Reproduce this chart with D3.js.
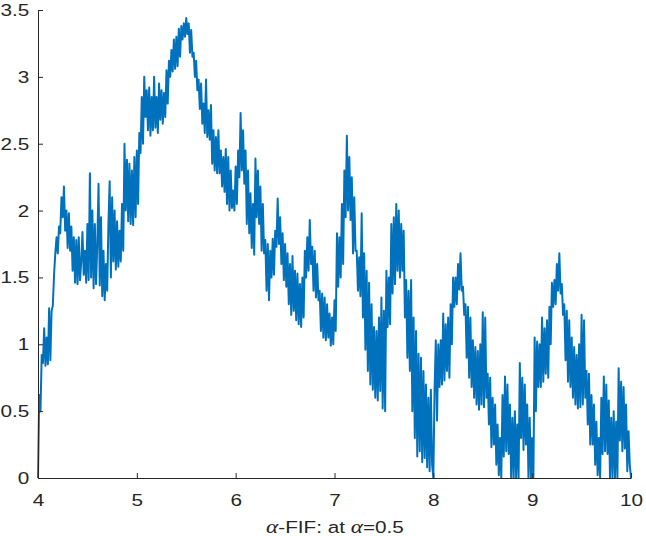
<!DOCTYPE html>
<html>
<head>
<meta charset="utf-8">
<script src="https://cdn.jsdelivr.net/npm/d3@7"></script>
<style>
  body { margin: 0; background: #fff; }
  text { font-family: "Liberation Sans", Arial, sans-serif; fill: #262626; }
</style>
</head>
<body>
<div id="chart"></div>
<script>
(function() {

    var width = 646,
    height = 536;

    // sampled curve, one array per unit interval of x, step 0.0125
    var step = 0.0125;
    var seg4 = [0.00,0.62,0.50,0.92,0.86,1.12,0.84,1.05,0.85,1.27,
                0.88,1.25,1.29,1.52,1.68,1.80,1.68,1.88,1.83,2.10,
                1.95,2.18,1.85,2.00,1.72,1.98,1.70,1.88,1.55,1.80,
                1.46,1.78,1.45,1.80,1.48,1.62,1.84,1.52,1.70,1.46,
                1.90,1.48,2.28,1.50,2.00,1.42,1.90,1.45,1.75,2.20,
                1.44,1.95,1.36,1.70,1.33,1.60,1.40,1.90,2.22,1.50,
                2.10,1.62,2.00,1.56,1.92,1.58,1.85,1.62,2.05,1.70,
                2.50,2.00,2.38,1.92,2.35,1.90,2.30,1.89,2.40,1.95];
    var seg5 = [2.45,2.05,2.58,2.43,2.85,2.50,3.00,2.70,2.90,2.60,
                2.92,2.56,2.85,2.60,3.00,2.62,2.85,2.58,2.95,2.68,
                2.90,2.65,2.88,2.70,3.05,2.80,3.12,3.00,3.20,3.04,
                3.28,3.06,3.30,3.08,3.36,3.15,3.38,3.28,3.40,3.30,
                3.44,3.32,3.40,3.18,3.35,3.15,3.18,3.00,3.12,2.90,
                2.98,2.76,2.95,2.65,2.80,2.58,2.98,2.55,2.75,2.53,
                2.79,2.35,2.60,2.30,2.55,2.28,2.60,2.28,2.45,2.18,
                2.40,2.14,2.46,2.05,2.40,2.00,2.30,2.02,2.15,2.00];
    var seg6 = [2.33,2.05,2.45,2.25,2.73,2.30,2.60,2.20,2.45,1.90,
                2.30,1.83,2.13,1.72,2.05,1.67,2.39,1.95,2.30,1.90,
                2.18,1.70,2.05,1.68,1.78,1.40,1.75,1.33,1.70,1.50,
                1.79,1.52,1.85,1.73,2.09,1.75,1.95,1.60,1.83,1.48,
                1.75,1.43,1.68,1.30,1.60,1.22,1.66,1.25,1.55,1.18,
                1.53,1.15,1.45,1.13,1.50,1.20,1.70,1.50,1.80,1.55,
                1.93,1.60,1.73,1.40,1.70,1.35,1.60,1.33,1.40,1.10,
                1.38,1.05,1.35,1.03,1.30,1.05,1.23,0.99,1.20,1.00];
    var seg7 = [1.33,1.10,1.83,1.43,1.80,1.50,2.05,1.60,2.30,1.95,
                2.56,2.00,2.40,1.93,2.25,1.68,2.10,1.70,1.70,1.40,
                1.65,1.36,1.98,1.20,1.68,0.96,1.55,0.80,1.46,0.70,
                1.30,0.66,1.13,0.60,1.10,0.58,1.20,0.65,1.35,0.52,
                1.25,0.50,1.55,1.13,1.50,1.15,1.90,1.38,1.95,1.45,
                2.05,1.55,2.00,1.50,1.90,1.55,1.85,1.20,1.48,0.90,
                1.40,0.80,1.48,0.50,1.20,0.30,1.10,0.16,0.93,0.20,
                0.90,0.12,0.80,0.15,0.70,0.08,0.60,0.05,0.66,0.10];
    var seg8 = [0.00,0.66,1.03,0.43,1.00,0.68,1.03,0.70,1.23,0.73,
                1.15,0.80,1.20,0.75,1.30,1.00,1.50,1.28,1.50,1.30,
                1.60,1.41,1.68,1.40,1.43,1.22,1.30,0.90,1.28,0.75,
                1.20,0.68,1.03,0.60,0.98,0.55,0.95,0.51,1.00,0.55,
                1.24,0.53,1.20,0.60,0.78,0.40,0.75,0.23,0.60,0.25,
                0.55,0.10,0.40,0.02,0.30,0.00,0.62,0.16,0.76,0.20,
                0.70,0.18,0.55,0.00,0.45,0.00,0.50,0.00,0.40,0.00,
                0.86,0.30,0.75,0.21,0.70,0.25,0.55,0.00,0.45,0.00];
    var seg9 = [0.30,0.00,1.05,0.50,1.02,0.68,1.00,0.68,1.20,0.72,
                1.12,0.78,1.18,0.75,1.28,1.00,1.46,1.28,1.48,1.30,
                1.60,1.40,1.68,1.38,1.45,1.22,1.30,0.88,1.25,0.72,
                1.18,0.68,1.05,0.60,0.98,0.55,0.92,0.52,1.00,0.53,
                1.22,0.55,1.18,0.60,0.80,0.40,0.78,0.25,0.62,0.25,
                0.55,0.10,0.42,0.02,0.30,0.00,0.60,0.18,0.76,0.20,
                0.70,0.18,0.58,0.00,0.45,0.00,0.50,0.00,0.42,0.00,
                0.82,0.28,0.72,0.20,0.68,0.22,0.55,0.05,0.35,0.10];
    var lastValue = 0.00;

    var xTicks = [4, 5, 6, 7, 8, 9, 10];
    var yTicks = [0, 0.5, 1, 1.5, 2, 2.5, 3, 3.5];

    var values = seg4.concat(seg5, seg6, seg7, seg8, seg9, [lastValue]);
    var points = values.map(function(v, i) {
        return { x: 4 + i * step, y: v };
    });

    var svg = d3.select("#chart")
    .append("svg")
    .attr("width", width)
    .attr("height", height);

    var xScale = d3.scaleLinear().domain([4, 10]).range([38, 631]);
    var yScale = d3.scaleLinear().domain([0, 3.5]).range([478, 10]);

    // the reference text is a bit wider than Liberation Sans
    var stretch = 1.22;

    var line = d3.line()
        .x(function(d) { return xScale(d.x); })
        .y(function(d) { return yScale(d.y); });

    svg.append("path")
        .datum(points)
        .attr("d", line)
        .attr("fill", "none")
        .attr("stroke", "#0072BD")
        .attr("stroke-width", 2)
        .attr("stroke-linejoin", "round");

    var xAxis = svg.append("g")
        .attr("transform", "translate(0,478)")
        .call(d3.axisBottom(xScale).tickValues(xTicks)
            .tickSizeInner(-5).tickSizeOuter(0).tickPadding(16)
            .tickFormat(d3.format("~g")));

    var yAxis = svg.append("g")
        .attr("transform", "translate(38,0)")
        .call(d3.axisLeft(yScale).tickValues(yTicks)
            .tickSizeInner(-5).tickSizeOuter(0).tickPadding(8)
            .tickFormat(d3.format("~g")));

    [xAxis, yAxis].forEach(function(g) {
        g.select(".domain").attr("stroke", "#262626");
        g.selectAll(".tick line").attr("stroke", "#262626");
        g.selectAll("text")
            .attr("fill", "#262626")
            .style("font-size", "17px")
            .attr("transform", "scale(" + stretch + ",1)");
    });
    yAxis.selectAll("text").attr("x", -8.7 / stretch);

    var title = svg.append("text")
        .attr("text-anchor", "middle")
        .attr("transform", "translate(335,533) scale(" + stretch + ",1)")
        .style("font-size", "17px");
    title.append("tspan").text("α")
        .style("font-family", "'Liberation Serif', serif")
        .style("font-style", "italic").style("font-size", "19px");
    title.append("tspan").text("-FIF: at ");
    title.append("tspan").text("α")
        .style("font-family", "'Liberation Serif', serif")
        .style("font-style", "italic").style("font-size", "19px");
    title.append("tspan").text("=0.5");

})();
</script>
</body>
</html>
